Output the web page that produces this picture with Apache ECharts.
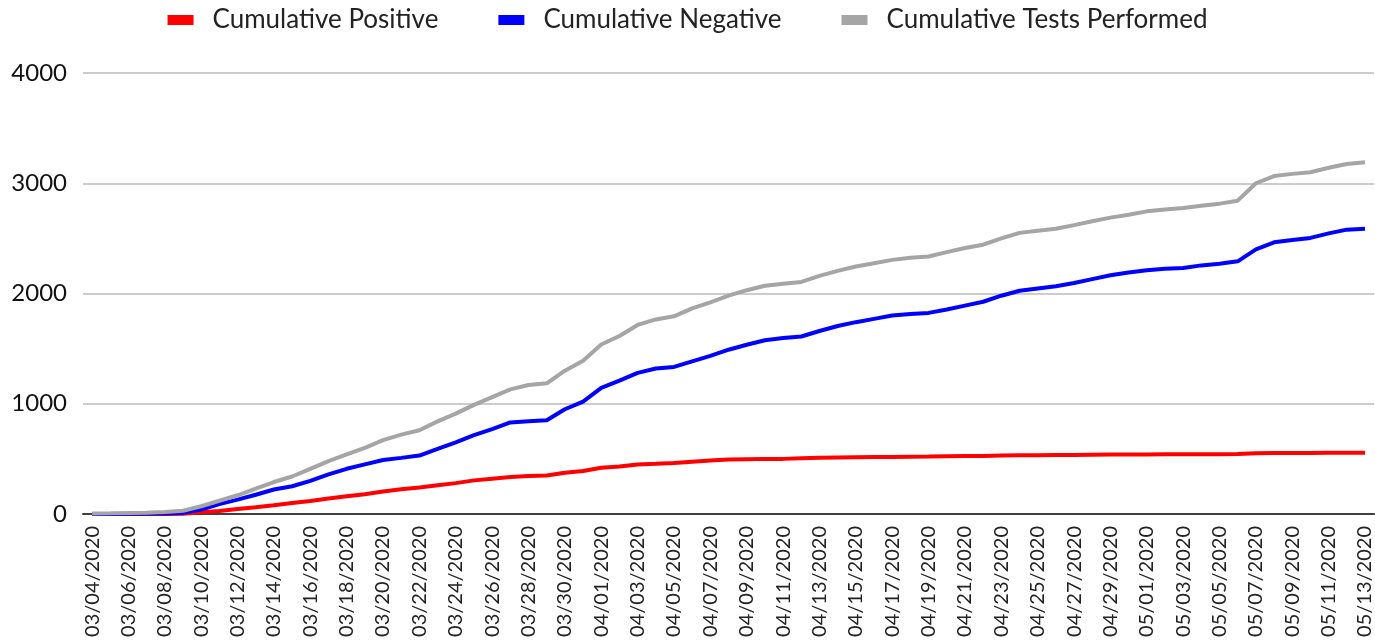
<!DOCTYPE html>
<html><head><meta charset="utf-8">
<script src="https://cdn.jsdelivr.net/npm/echarts@6/dist/echarts.min.js"></script>
<style>html,body{margin:0;padding:0;background:#fff}#c{width:1375px;height:643px}</style>
</head><body><div id="c"></div>
<script>
const dates = (function(){const a=[];const ml=[[3,4,31],[4,1,30],[5,1,13]];for(const [m,s,e] of ml){for(let d=s;d<=e;d++){a.push('0'+m+'/'+(d<10?'0'+d:d)+'/2020');}}return a;})();
const positive = [0,0,0,0,1,2,15,28,45,62,80,100,118,140,160,180,205,225,240,260,280,305,320,335,345,350,375,390,420,430,449,455,462,475,485,494,497,500,500,505,510,512,514,516,518,520,521,523,525,527,530,532,533,535,536,538,539,540,540,541,542,543,543,544,550,553,554,554,555,555,556];
const negative = [0,1,2,3,5,10,40,90,130,175,222,252,300,360,410,450,490,509,530,590,650,715,770,830,841,850,950,1020,1144,1210,1280,1320,1334,1385,1435,1490,1535,1576,1597,1610,1660,1705,1740,1770,1800,1815,1824,1855,1890,1925,1980,2025,2045,2065,2095,2130,2165,2190,2210,2225,2232,2255,2270,2292,2400,2464,2485,2504,2545,2579,2588];
const tests = [5,6,8,12,18,30,70,120,170,230,290,340,410,480,540,600,670,720,760,840,910,990,1060,1130,1170,1185,1300,1390,1537,1615,1715,1765,1793,1865,1920,1980,2030,2070,2088,2105,2160,2205,2245,2275,2305,2325,2335,2375,2413,2443,2500,2550,2570,2588,2620,2655,2688,2715,2745,2762,2775,2795,2815,2842,3000,3065,3085,3100,3140,3175,3190];
const seriesNames = ['Cumulative Positive','Cumulative Negative','Cumulative Tests Performed'];
const FONT = 'Lato, "Open Sans", sans-serif';
const chart = echarts.init(document.getElementById('c'), null, {renderer:'canvas'});
function mk(name, data, color){return {name, type:'line', data, symbol:'none', smooth:false, lineStyle:{color, width:4}, itemStyle:{color}, animation:false};}
chart.setOption({
  animation:false,
  legend:{top:2,left:'center',itemWidth:26,itemHeight:10,itemGap:60,icon:'rect',
    textStyle:{fontFamily:FONT,fontSize:26,color:'#222',padding:[0,0,0,14]},data:seriesNames},
  grid:{left:83,right:-1,top:73,bottom:129,containLabel:false},
  xAxis:{type:'category',data:dates,boundaryGap:true,
    axisLine:{lineStyle:{color:'#404040',width:2}},axisTick:{show:false},
    axisLabel:{interval:1,rotate:90,margin:12,fontFamily:FONT,fontSize:20,color:'#222'}},
  yAxis:{type:'value',min:0,max:4000,interval:1000,
    axisLine:{show:false},axisTick:{show:false},
    splitLine:{lineStyle:{color:'#cccccc',width:2}},
    axisLabel:{margin:16,fontFamily:FONT,fontSize:24,color:'#111',formatter:function(v){return String(v);}}},
  series:[mk(seriesNames[0],positive,'#ff0000'),mk(seriesNames[1],negative,'#0000ff'),mk(seriesNames[2],tests,'#a5a5a5')]
});
</script></body></html>
